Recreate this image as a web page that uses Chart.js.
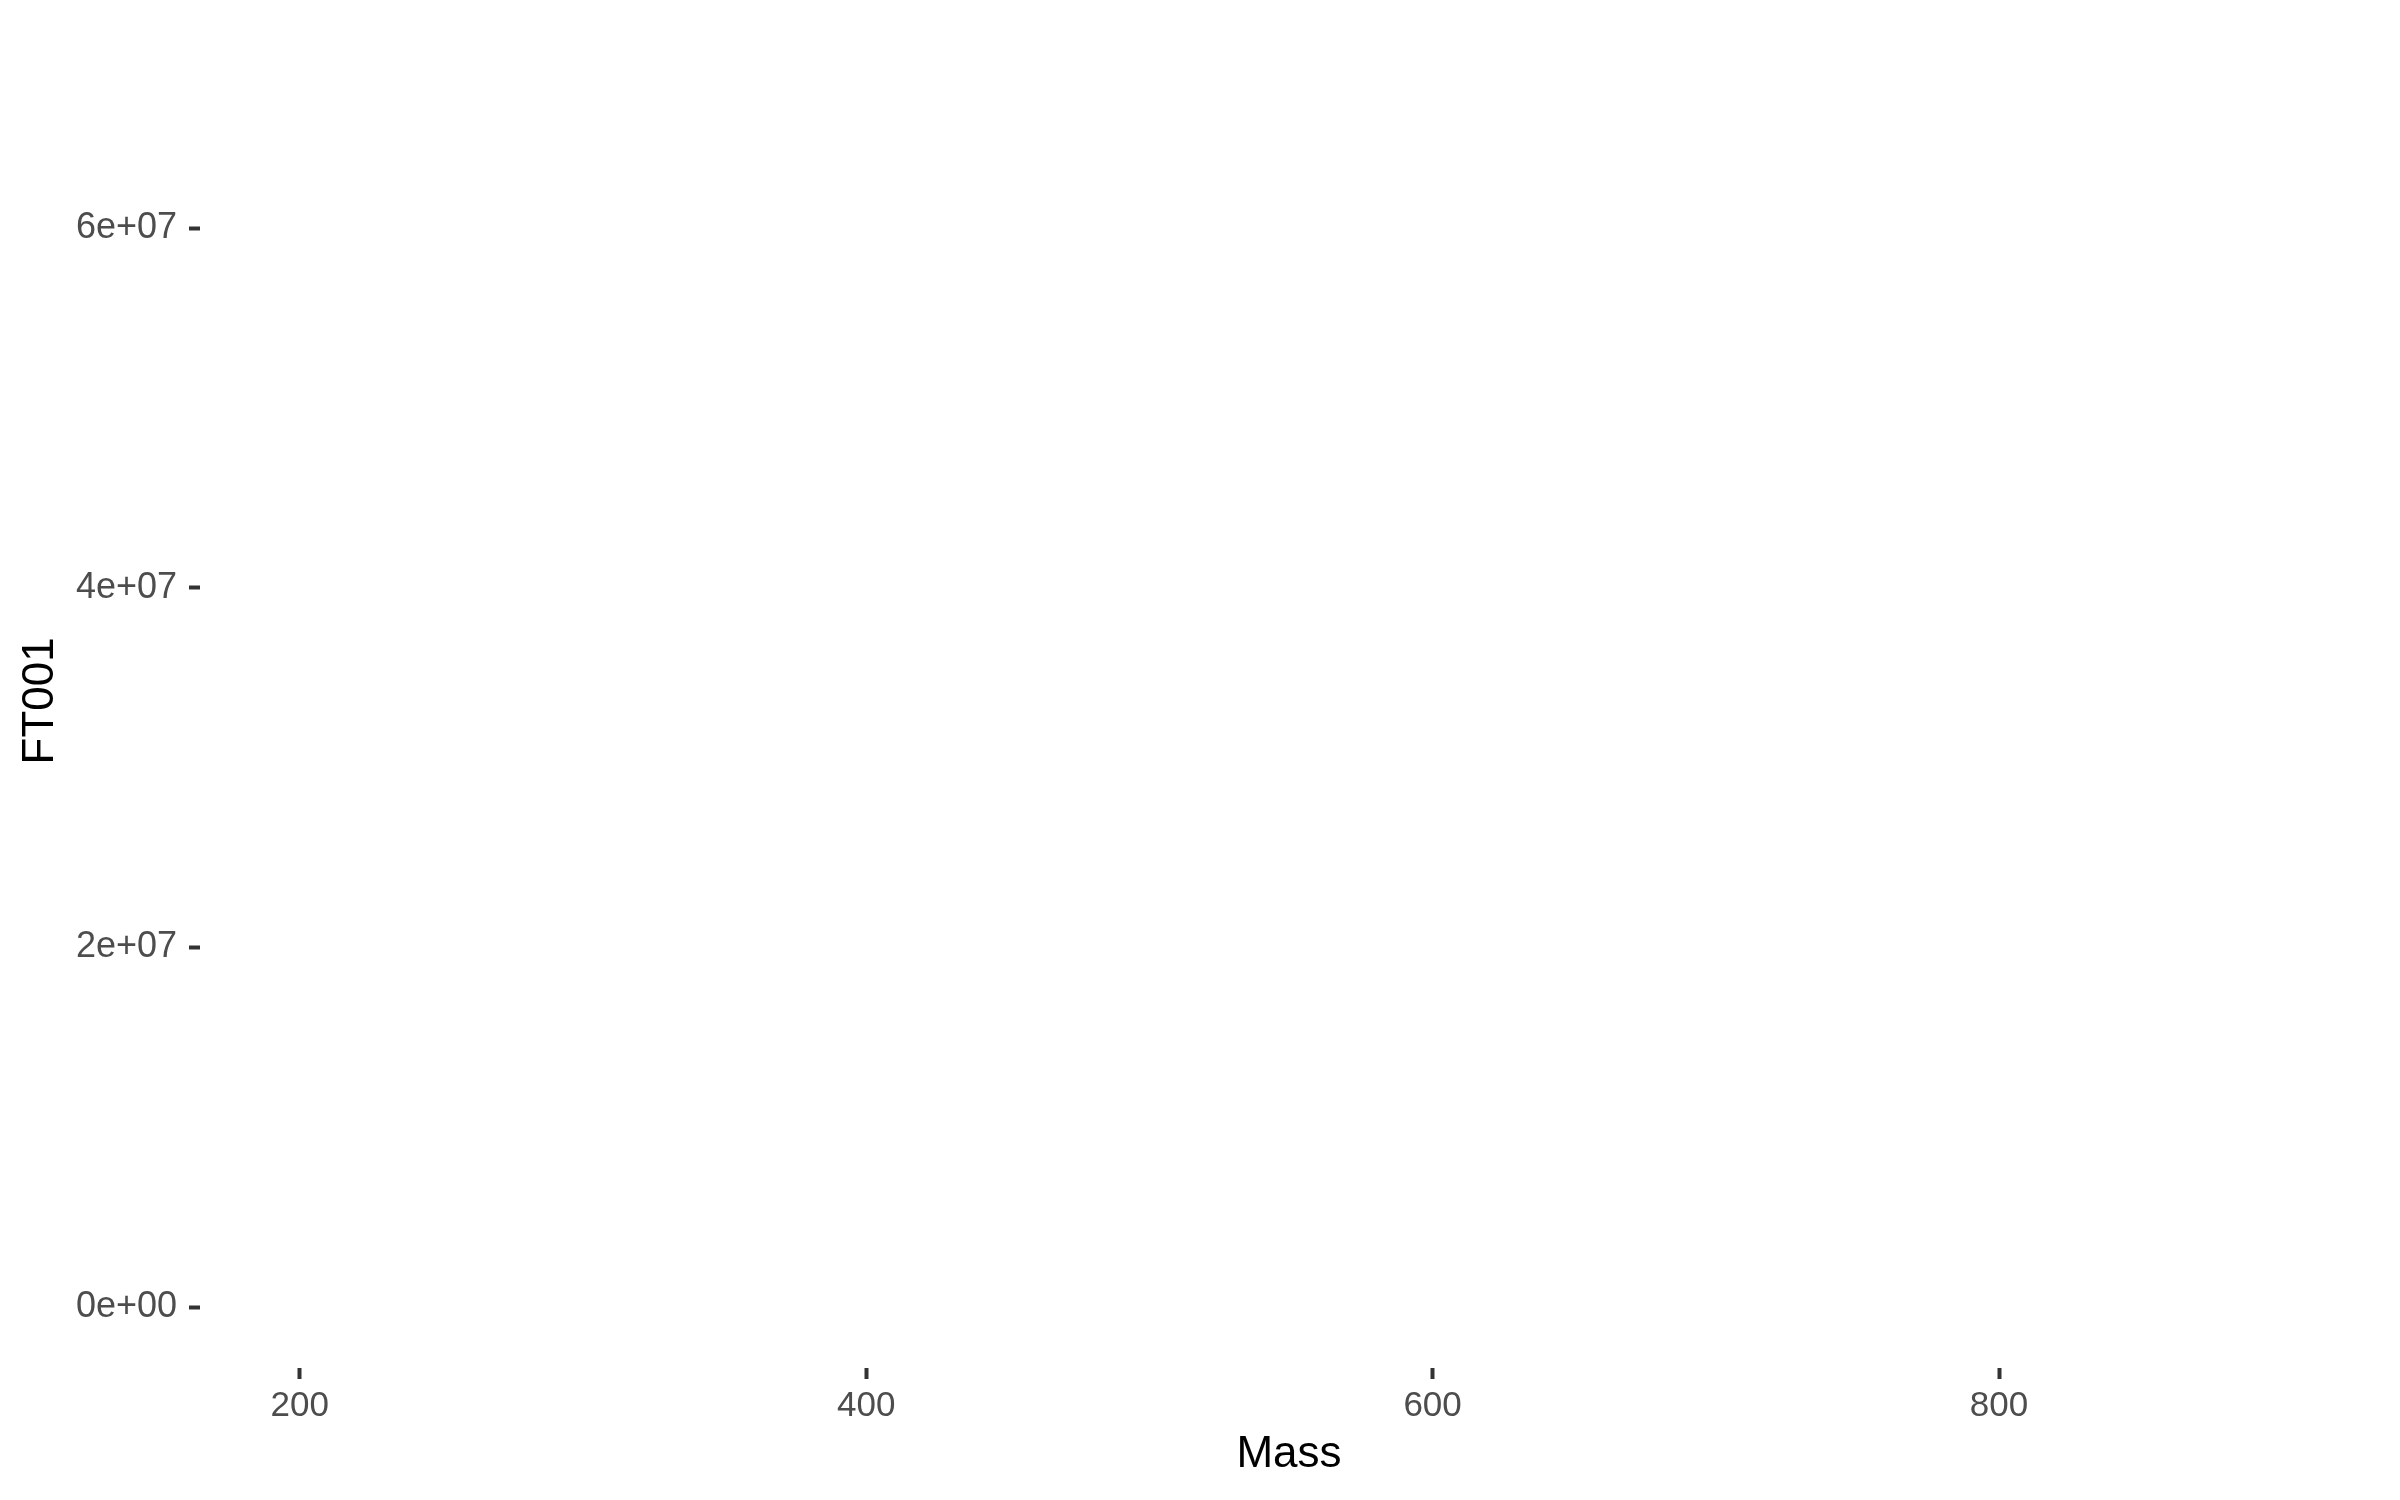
<!DOCTYPE html>
<html>
<head>
<meta charset="utf-8">
<script src="https://cdn.jsdelivr.net/npm/chart.js@4.4.1/dist/chart.umd.min.js"></script>
<style>
  html, body { margin: 0; padding: 0; background: #ffffff; }
  #wrap { width: 2400px; height: 1500px; }
</style>
</head>
<body>
<div id="wrap"><canvas id="chart" width="2400" height="1500"></canvas></div>
<script>
// data: the panel shows no marks
const mass = [];
const ft001 = [];

const xTicks = [200, 400, 600, 800];
const xTickLabels = ["200", "400", "600", "800"];
const yTicks = [0, 20000000, 40000000, 60000000];
const yTickLabels = ["0e+00", "2e+07", "4e+07", "6e+07"];

const xRange = [164.8, 933.8];
const yRange = [-3380000, 70820000];

const FONT = "'Liberation Sans', Arial, Helvetica, sans-serif";

const whiteBg = {
  id: "whiteBg",
  beforeDraw(chart) {
    const ctx = chart.ctx;
    ctx.save();
    ctx.fillStyle = "#ffffff";
    ctx.fillRect(0, 0, chart.width, chart.height);
    ctx.restore();
  },
};

const points = mass.map((m, i) => ({ x: m, y: ft001[i] }));

new Chart(document.getElementById("chart"), {
  type: "scatter",
  data: {
    datasets: [
      {
        label: "FT001",
        data: points,
        backgroundColor: "#000000",
        pointRadius: 3,
      },
    ],
  },
  options: {
    responsive: false,
    devicePixelRatio: 1,
    animation: false,
    layout: { padding: { top: 22, right: 22, left: 0, bottom: 0 } },
    plugins: {
      legend: { display: false },
      tooltip: { enabled: false },
    },
    scales: {
      x: {
        type: "linear",
        min: xRange[0],
        max: xRange[1],
        afterBuildTicks: (s) => {
          s.ticks = xTicks.map((v) => ({ value: v }));
        },
        afterFit: (s) => {
          s.height = 132;
        },
        ticks: {
          autoSkip: false,
          maxRotation: 0,
          padding: 6,
          color: "#4d4d4d",
          font: { family: FONT, size: 35 },
          callback: (v, i) => xTickLabels[i],
        },
        grid: {
          display: true,
          drawOnChartArea: false,
          drawTicks: true,
          tickLength: 11,
          tickWidth: 4,
          tickColor: "#333333",
        },
        border: { display: false },
        title: {
          display: true,
          text: "Mass",
          color: "#000000",
          font: { family: FONT, size: 44 },
          padding: { top: 0, bottom: 19 },
        },
      },
      y: {
        type: "linear",
        min: yRange[0],
        max: yRange[1],
        afterBuildTicks: (s) => {
          s.ticks = yTicks.map((v) => ({ value: v }));
        },
        afterFit: (s) => {
          s.width = 200;
        },
        ticks: {
          autoSkip: false,
          padding: 12,
          color: "#4d4d4d",
          font: { family: FONT, size: 36 },
          callback: (v, i) => yTickLabels[i],
        },
        grid: {
          display: true,
          drawOnChartArea: false,
          drawTicks: true,
          tickLength: 11,
          tickWidth: 4,
          tickColor: "#333333",
        },
        border: { display: false },
        title: {
          display: true,
          text: "FT001",
          color: "#000000",
          font: { family: FONT, size: 44 },
          padding: { top: 14, bottom: 0 },
        },
      },
    },
  },
  plugins: [whiteBg],
});
</script>
</body>
</html>
